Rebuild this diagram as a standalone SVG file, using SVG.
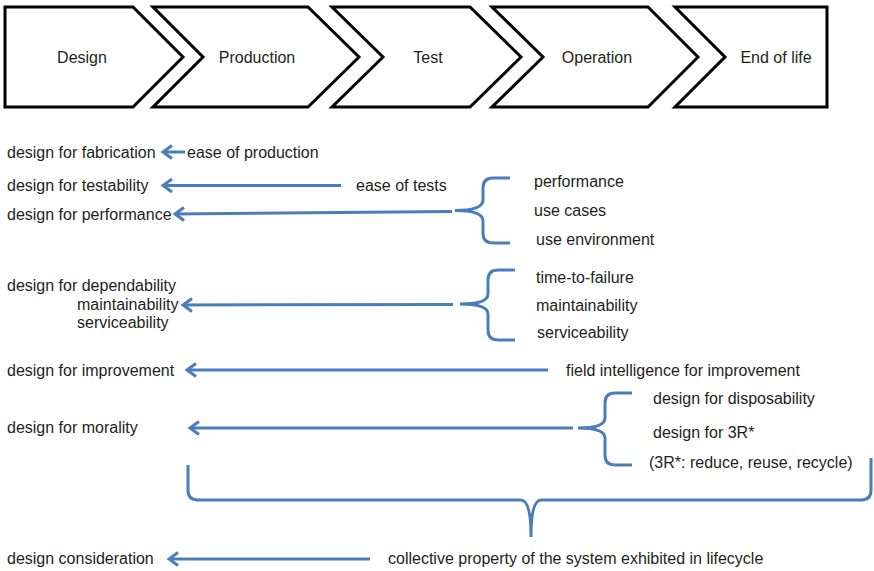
<svg xmlns="http://www.w3.org/2000/svg" width="874" height="571" viewBox="0 0 874 571">
  <style>
    .stage { fill: #ffffff; stroke: #000000; stroke-width: 3; stroke-linejoin: miter; }
    text { font-family: "Liberation Sans", Arial, sans-serif; font-size: 16px; fill: #1e1e1e; }
    .mid { text-anchor: middle; }
    .arrow { stroke: #4a7ebb; stroke-width: 3; fill: none; marker-end: url(#head); }
    .brace { stroke: #4a7ebb; stroke-width: 3; fill: none; stroke-linecap: butt; }
  </style>
  <defs>
    <marker id="head" markerUnits="userSpaceOnUse" markerWidth="16" markerHeight="16" viewBox="-12 -8 14 16" refX="0" refY="0" orient="auto" overflow="visible">
      <path d="M -9 -6.5 L 0 0 L -9 6.5" fill="none" stroke="#4a7ebb" stroke-width="3"/>
    </marker>
  </defs>

  <rect width="874" height="571" fill="#ffffff"/>

  <!-- lifecycle stages -->
  <g id="stage-design">
    <path class="stage" d="M5,7 L133,7 L183,57 L133,107 L5,107 Z"/>
    <text class="mid" x="82" y="62.5">Design</text>
  </g>
  <g id="stage-production">
    <path class="stage" d="M153,7 L308,7 L359,57 L308,107 L153,107 L203,57 Z"/>
    <text class="mid" x="257" y="62.5">Production</text>
  </g>
  <g id="stage-test">
    <path class="stage" d="M332,7 L470,7 L521,57 L470,107 L332,107 L383,57 Z"/>
    <text class="mid" x="428" y="62.5">Test</text>
  </g>
  <g id="stage-operation">
    <path class="stage" d="M492,7 L648,7 L698,57 L648,107 L492,107 L543,57 Z"/>
    <text class="mid" x="597" y="62.5">Operation</text>
  </g>
  <g id="stage-end-of-life">
    <path class="stage" d="M675,7 L827,7 L827,107 L675,107 L725,57 Z"/>
    <text class="mid" x="776" y="62.5">End of life</text>
  </g>

  <!-- design targets (left column) -->
  <g id="fabrication">
    <text x="7" y="157.5">design for fabrication</text>
  </g>
  <g id="testability">
    <text x="7" y="190.5">design for testability</text>
  </g>
  <g id="performance">
    <text x="7" y="220">design for performance</text>
  </g>
  <g id="dependability">
    <text x="7" y="291">design for dependability</text>
    <text x="77" y="309.5">maintainability</text>
    <text x="77" y="327.5">serviceability</text>
  </g>
  <g id="improvement">
    <text x="7" y="375.5">design for improvement</text>
  </g>
  <g id="morality">
    <text x="7" y="433">design for morality</text>
  </g>
  <g id="consideration">
    <text x="7" y="564">design consideration</text>
  </g>

  <!-- sources (right column) -->
  <g id="ease-of-production">
    <text x="187" y="157.5">ease of production</text>
  </g>
  <g id="ease-of-tests">
    <text x="356" y="190.5">ease of tests</text>
  </g>
  <g id="performance-factors">
    <text x="534" y="186.5">performance</text>
    <text x="534" y="215.5">use cases</text>
    <text x="536" y="244.5">use environment</text>
  </g>
  <g id="dependability-factors">
    <text x="536" y="282.5">time-to-failure</text>
    <text x="536" y="310.5">maintainability</text>
    <text x="537" y="337.5">serviceability</text>
  </g>
  <g id="field-intelligence">
    <text x="566" y="375.5">field intelligence for improvement</text>
  </g>
  <g id="morality-factors">
    <text x="653" y="403.5">design for disposability</text>
    <text x="653" y="437.5">design for 3R*</text>
    <text x="649" y="467.5">(3R*: reduce, reuse, recycle)</text>
  </g>
  <g id="collective-property">
    <text x="388" y="564">collective property of the system exhibited in lifecycle</text>
  </g>

  <!-- connectors -->
  <g id="connectors">
    <line class="arrow" x1="185" y1="152" x2="163" y2="152"/>
    <line class="arrow" x1="341" y1="185.5" x2="163" y2="185.5"/>
    <line class="arrow" x1="452" y1="211.5" x2="175" y2="214"/>
    <path class="brace" d="M510,178 H493 Q483,178 483,188 V200 Q483,210.5 455,210.5 Q483,210.5 483,221 V233 Q483,243 493,243 H510"/>
    <line class="arrow" x1="453" y1="304.5" x2="183" y2="305"/>
    <path class="brace" d="M515,270 H498 Q488,270 488,280 V294 Q488,304 460,304 Q488,304 488,314 V330 Q488,340 498,340 H515"/>
    <line class="arrow" x1="548" y1="370" x2="187" y2="370"/>
    <line class="arrow" x1="573" y1="428" x2="190" y2="428"/>
    <path class="brace" d="M632,393 H615 Q605,393 605,403 V418 Q605,428 578,428 Q605,428 605,438 V455 Q605,465 615,465 H632"/>
    <path class="brace" d="M188,465 V490 Q188,500 198,500 H521 Q531,500 531,537 Q531,500 541,500 H861 Q871,500 871,490 V458"/>
    <line class="arrow" x1="370" y1="559" x2="169" y2="559"/>
  </g>
</svg>
